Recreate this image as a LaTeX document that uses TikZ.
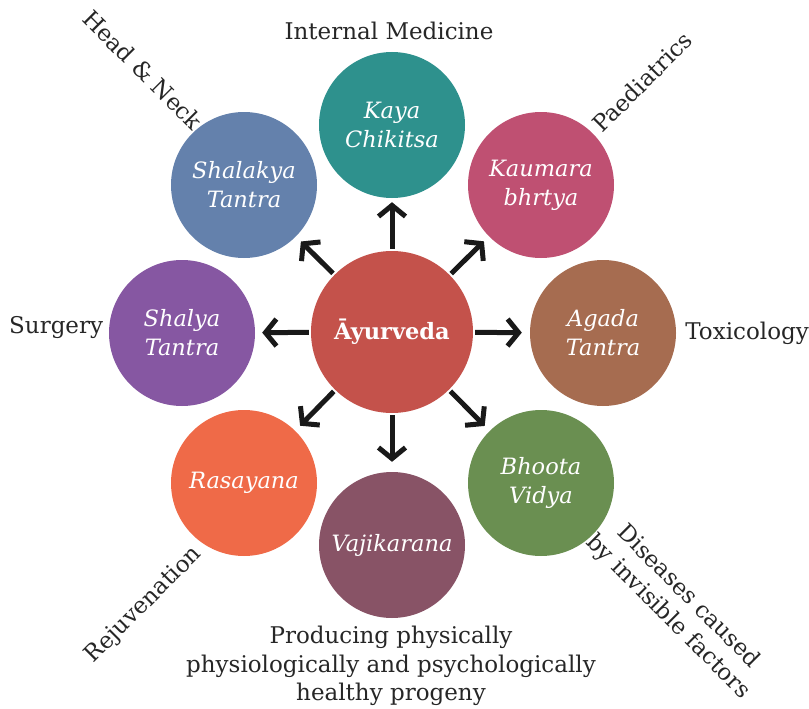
\documentclass[tikz,border=0pt]{standalone}
\usepackage{fontspec}
\setmainfont{DejaVu Serif}
\usepackage{tikz}
\usetikzlibrary{arrows.meta}
\definecolor{ayurC}{HTML}{C4524B}
\definecolor{kayaC}{HTML}{2E918D}
\definecolor{kaumC}{HTML}{BF5072}
\definecolor{agadC}{HTML}{A66C50}
\definecolor{bhooC}{HTML}{6A8F51}
\definecolor{vajiC}{HTML}{885366}
\definecolor{rasaC}{HTML}{EF6A48}
\definecolor{shalC}{HTML}{8657A2}
\definecolor{slkyC}{HTML}{6481AC}

\begin{document}
\begin{tikzpicture}[
x=1pt, y=-1pt,
    B/.style = {circle, minimum size=146pt, inner sep=0pt,% styles of the circles
                text=white, align=center,
                font=\fontsize{22.5}{29}\selectfont\itshape},
    L/.style = {align=center, inner sep=0pt, text=black!85,
                font=\fontsize{23}{28.5}\selectfont},
    A/.style = {line width=5pt, black!90, shorten <=2pt,
                -{Straight Barb[length=11pt,width=27pt]}},
                        ]
\useasboundingbox (0,0) rectangle (809,709);
\node[B, minimum size=162pt, fill=ayurC, font=\fontsize{22.5}{29}\selectfont\bfseries] (ayur) at (392,332) {Āyurveda};
\foreach \n/\p/\c/\t in {kaya/{392,125}/kayaC/{Kaya\\Chikitsa},
                         kaum/{541,185}/kaumC/{Kaumara\\bhrtya},
                         agad/{603,333}/agadC/{Agada\\Tantra},
                         bhoo/{541,483}/bhooC/{Bhoota\\Vidya},
                         vaji/{392,545}/vajiC/{Vajikarana},
                         rasa/{244,483}/rasaC/{Rasayana},
                         shal/{182,333}/shalC/{Shalya\\Tantra},
                         slky/{244,185}/slkyC/{Shalakya\\Tantra}}% <-- the eight branches
    \node[B, fill=\c] (\n) at (\p) {\t};
\foreach \n/\s in {kaya/4,kaum/7,agad/8,bhoo/7,vaji/10,rasa/7,shal/7,slky/7}
    \draw[A, shorten >=\s pt] (ayur) -- (\n);
\node[L] (intmed) at (389,31) {Internal Medicine};
\node[L, rotate=-45] (headneck) at (143,70) {Head \& Neck};
\node[L, rotate=45] (paed) at (642,82) {Paediatrics};
\node[L, anchor=west] (surg) at (9,328) {Surgery};
\node[L, anchor=east] (toxi) at (809,333) {Toxicology};
\node[L, rotate=45] (rejuv) at (144,605) {Rejuvenation};
\node[L, rotate=-45] (disea) at (678,607) {Diseases caused\\by invisible factors};
\node[L] (progeny) at (391,666) {Producing physically\\physiologically and psychologically\\healthy progeny};
\end{tikzpicture}
\end{document}
